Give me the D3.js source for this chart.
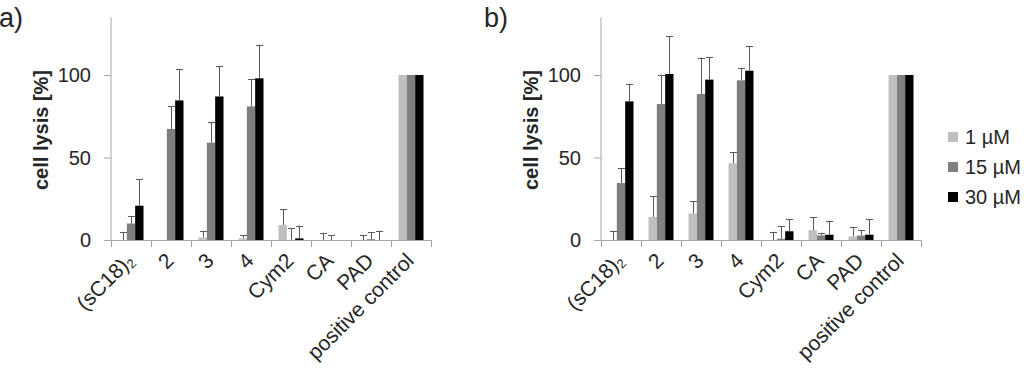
<!DOCTYPE html>
<html>
<head>
<meta charset="utf-8">
<script src="https://cdn.jsdelivr.net/npm/d3@7"></script>
<style>
  body { margin: 0; background: #fff; }
  text { font-family: "Liberation Sans", Arial, sans-serif; fill: #262626; }
</style>
</head>
<body>
<script>
// categories (first one gets a subscript handled below)
var categories = ["(sC18)2", "2", "3", "4", "Cym2", "CA", "PAD", "positive control"]
var seriesNames = ["1 µM", "15 µM", "30 µM"]
var seriesColors = ["#bfbfbf", "#7f7f7f", "#000000"]
var yTicks = [0, 50, 100]

// panel a) mean values and error (plus only)
var a1  = [0, 0, 1.5, 1, 9, 0, 0, 100]
var a15 = [10, 67.3, 59, 81, 0, 0, 0.5, 100]
var a30 = [20.8, 84.6, 87, 98, 1, -0.5, -0.6, 100]
var aErr1  = [5, 0, 4.1, 2, 9.6, 4.4, 3, 0]
var aErr15 = [4.5, 13.7, 12.7, 16.4, 7, 3, 4.3, 0]
var aErr30 = [16, 19, 18.6, 20.4, 7.7, 0.5, 6.2, 0]

// panel b)
var b1  = [0, 14, 16, 46.5, 0, 6, 2.2, 100]
var b15 = [34.5, 82.4, 88.5, 96.8, 0.8, 2.8, 2.7, 100]
var b30 = [84, 100.6, 97.2, 102.6, 5.3, 3.2, 3.2, 100]
var bErr1  = [5.6, 12.5, 7.6, 6.6, 5, 7.7, 5.8, 0]
var bErr15 = [8.9, 17.8, 22, 7.6, 7.7, 1.6, 3.3, 0]
var bErr30 = [10.7, 22.8, 13.8, 15, 7.4, 8.5, 9.5, 0]

var screen = {width: 1024, height: 373}

var svg = d3.select("body")
  .append("svg")
  .attr("width", screen.width)
  .attr("height", screen.height)

var yScale = d3.scaleLinear()
  .domain([0, 135])
  .range([240, 17.25])

var drawPanel = function(x0, letter, letterX, vals, errs)
{
  var width = 320
  var g = svg.append("g")

  var xScale = d3.scaleBand()
    .domain(categories)
    .range([x0, x0 + width])

  var sScale = d3.scaleBand()
    .domain(seriesNames)
    .range([7.5, 32.5])

  g.append("text")
    .attr("x", letterX)
    .attr("y", 27)
    .style("font-size", "27px")
    .text(letter)

  // y axis line + ticks
  g.append("line")
    .attr("x1", x0).attr("x2", x0)
    .attr("y1", yScale.range()[1]).attr("y2", yScale(0))
    .attr("stroke", "#a6a6a6")

  g.selectAll(".ytick")
    .data(yTicks)
    .enter()
    .append("line")
    .attr("x1", x0 - 7).attr("x2", x0)
    .attr("y1", function(d) { return yScale(d) + 0.5 })
    .attr("y2", function(d) { return yScale(d) + 0.5 })
    .attr("stroke", "#a6a6a6")

  g.selectAll(".ylab")
    .data(yTicks)
    .enter()
    .append("text")
    .attr("x", x0 - 20)
    .attr("y", function(d) { return yScale(d) + 7 })
    .attr("text-anchor", "end")
    .style("font-size", "20px")
    .text(function(d) { return d })

  g.append("text")
    .attr("transform", "translate(" + (x0 - 63) + ",130) rotate(-90)")
    .attr("text-anchor", "middle")
    .style("font-size", "20px")
    .style("font-weight", "bold")
    .text("cell lysis [%]")

  // bars
  seriesNames.forEach(function(s, si)
  {
    g.selectAll(".bar" + si)
      .data(vals[si])
      .enter()
      .append("rect")
      .attr("x", function(d, i) { return xScale(categories[i]) + sScale(s) })
      .attr("y", function(d) { return yScale(Math.max(d, 0)) })
      .attr("width", sScale.bandwidth())
      .attr("height", function(d) { return Math.max(1, Math.abs(yScale(d) - yScale(0))) })
      .attr("fill", seriesColors[si])

    // error bars
    var eg = g.selectAll(".err" + si)
      .data(vals[si].map(function(v, i) { return {v: v, e: errs[si][i], i: i} }).filter(function(d) { return d.e > 0 }))
      .enter()
      .append("g")
    var cx = function(d) { return Math.round(xScale(categories[d.i]) + sScale(s) + sScale.bandwidth() / 2) + 0.5 }
    eg.append("line")
      .attr("x1", cx).attr("x2", cx)
      .attr("y1", function(d) { return yScale(d.v) })
      .attr("y2", function(d) { return yScale(d.v + d.e) })
      .attr("stroke", "#595959")
    eg.append("line")
      .attr("x1", function(d) { return cx(d) - 3.5 })
      .attr("x2", function(d) { return cx(d) + 3.5 })
      .attr("y1", function(d) { return Math.round(yScale(d.v + d.e)) + 0.5 })
      .attr("y2", function(d) { return Math.round(yScale(d.v + d.e)) + 0.5 })
      .attr("stroke", "#595959")
  })

  // x axis line + boundary ticks
  g.append("line")
    .attr("x1", x0 - 7).attr("x2", x0 + width)
    .attr("y1", yScale(0) + 0.5).attr("y2", yScale(0) + 0.5)
    .attr("stroke", "#a6a6a6")

  g.selectAll(".xtick")
    .data(d3.range(categories.length + 1))
    .enter()
    .append("line")
    .attr("x1", function(d) { return x0 + d * xScale.step() + 0.5 })
    .attr("x2", function(d) { return x0 + d * xScale.step() + 0.5 })
    .attr("y1", yScale(0)).attr("y2", yScale(0) + 7)
    .attr("stroke", "#a6a6a6")

  var xl = g.selectAll(".xlab")
    .data(categories)
    .enter()
    .append("text")
    .attr("transform", function(d) { return "translate(" + (xScale(d) + xScale.bandwidth() / 2 + 4) + ",262) rotate(-45)" })
    .attr("text-anchor", "end")
    .style("font-size", "21px")

  xl.each(function(d)
  {
    var t = d3.select(this)
    if (d == "(sC18)2") {
      t.append("tspan").text("(sC18)")
      t.append("tspan").attr("dy", 3).style("font-size", "13px").text("2")
    } else {
      t.text(d)
    }
  })
}

drawPanel(111, "a)", -1, [a1, a15, a30], [aErr1, aErr15, aErr30])
drawPanel(601, "b)", 484, [b1, b15, b30], [bErr1, bErr15, bErr30])

// legend
var lg = svg.append("g")
  .selectAll("g")
  .data(seriesNames)
  .enter()
  .append("g")
  .attr("transform", function(d, i) { return "translate(948," + (137 + i * 30) + ")" })

lg.append("rect")
  .attr("x", 0).attr("y", -5)
  .attr("width", 10).attr("height", 10)
  .attr("fill", function(d, i) { return seriesColors[i] })

lg.append("text")
  .attr("x", 17).attr("y", 7)
  .style("font-size", "20px")
  .text(function(d) { return d })
</script>
</body>
</html>
